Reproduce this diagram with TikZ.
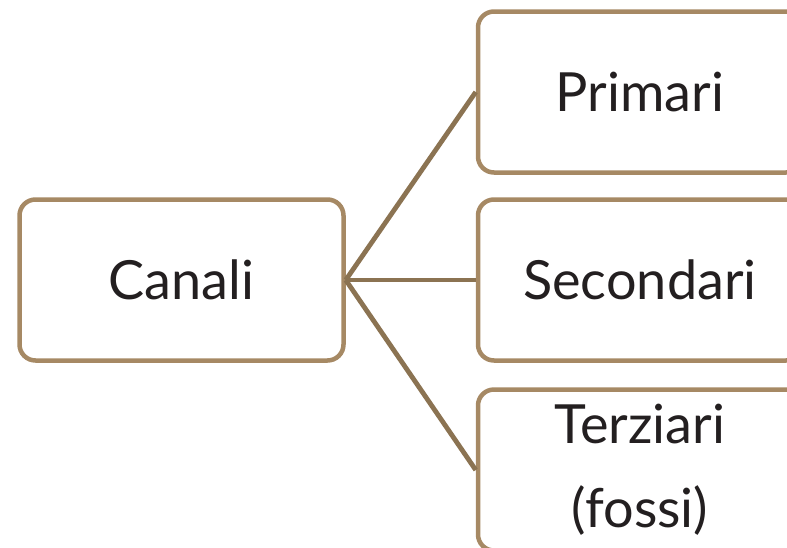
\documentclass[tikz,border=0pt]{standalone}
\usepackage{fontspec}
\setmainfont{Lato}
\definecolor{boxline}{RGB}{166,137,100}
\definecolor{connline}{RGB}{139,115,82}
\definecolor{txt}{RGB}{35,31,32}
\begin{document}
\begin{tikzpicture}[x=1pt,y=-1pt,
  box/.style={draw=boxline, line width=4.5pt, rounded corners=16pt, fill=white,
    minimum width=324pt, minimum height=161pt, inner sep=0pt, text=txt,
    font=\fontsize{54}{84}\selectfont, align=center},
  conn/.style={draw=connline, line width=4.8pt}]
\useasboundingbox (0,0) rectangle (787,547);
\node[box] (canali) at (181.5,280) {Canali};
\node[box] (primari) at (640,92) {Primari};
\node[box] (secondari) at (640,280) {Secondari};
\node[box] (terziari) at (640,470) {Terziari\\(fossi)};
\draw[conn] (canali.east) -- (primari.west);
\draw[conn] (canali.east) -- (secondari.west);
\draw[conn] (canali.east) -- (terziari.west);
\end{tikzpicture}
\end{document}
